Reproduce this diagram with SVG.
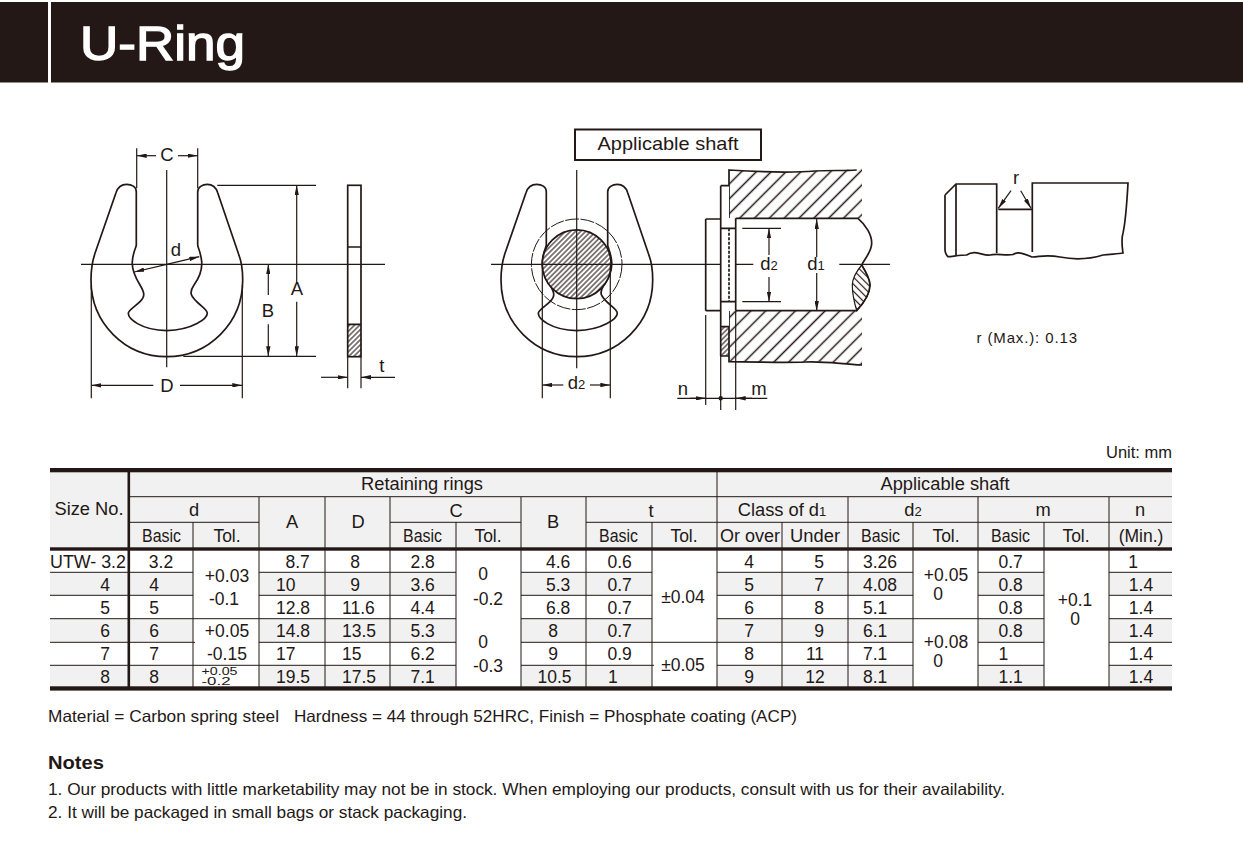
<svg xmlns="http://www.w3.org/2000/svg" width="1243" height="843" viewBox="0 0 1243 843">
<style>
text{font-family:"Liberation Sans",Arial,sans-serif;fill:#231815;font-size:17.5px}
.m{text-anchor:middle}
.lb{font-size:18.5px;text-anchor:middle}
.h{font-size:18.3px;text-anchor:middle}
.ln{fill:none;stroke:#231815;stroke-width:1.2}
.o{fill:none;stroke:#231815;stroke-width:1.7}
.a{marker-end:url(#arr)}
.t{fill:none;stroke:#231815;stroke-width:1}
.s{font-size:16.5px}
</style>
<defs>
<marker id="arr" viewBox="0 0 10 4.4" refX="10" refY="2.2" markerWidth="10" markerHeight="4.4" markerUnits="userSpaceOnUse" orient="auto"><path d="M0 0L10 2.2L0 4.4Z" fill="#231815"/></marker>
<pattern id="hf" width="3.6" height="3.6" patternUnits="userSpaceOnUse" patternTransform="rotate(45)"><line x1="1.8" y1="0" x2="1.8" y2="3.6" stroke="#231815" stroke-width="1.1"/></pattern>
<pattern id="hb" width="10.500" height="10.500" patternUnits="userSpaceOnUse" patternTransform="rotate(45)"><line x1="5.250" y1="0" x2="5.250" y2="10.500" stroke="#231815" stroke-width="1.500"/></pattern>
<pattern id="hr" width="5" height="5" patternUnits="userSpaceOnUse" patternTransform="rotate(-45)"><line x1="2.500" y1="0" x2="2.500" y2="5" stroke="#231815" stroke-width="1.200"/></pattern>
<path id="ring" d="M136.3 191.7C136.3 186.7 131.7 184.3 126.7 184.3C121.7 184.3 117.7 187.3 116 192.7L95 253.3C92.7 260 91 270 91 280C91 323.3 125 356.7 166.7 356.7C208.3 356.7 242.7 323.3 242.7 280C242.7 270 241 260 238.3 253.3L217.7 192.7C216 187.3 211.7 184.3 207.3 184.3C202.3 184.3 197.7 187.3 197.7 191.7L197.7 245C197.7 247.3 200.7 251.7 201.7 261.7C202.3 270 200 276.7 194 285C188.3 293.3 191.7 296.7 196.7 301.7C201.7 306.7 207.3 310 207.3 313.3C207.3 318.3 193.3 330 166.7 330.7C140 330 128.3 318.3 128.3 313.3C128.3 310 135 306.7 140 301.7C145 296.7 145 293.3 140 285C135 276.7 131.7 270 132.3 261.7C133 251.7 136.3 247.3 136.3 245Z"/>
</defs>

<g id="header">
<rect x="0" y="2" width="48" height="80.500" fill="#231815"/>
<rect x="51" y="2" width="1192" height="80.500" fill="#231815"/>
<text x="80" y="60" textLength="165" lengthAdjust="spacingAndGlyphs" style="fill:#fff;stroke:#fff;stroke-width:1.400;font-size:48px">U-Ring</text>
</g>

<g id="ring-front">
<use href="#ring" class="o"/>
<path class="ln" d="M136.700 148.300V188.300M197.700 148.300V188.300M166.700 170V367.300M81 264.300H385M217.300 185.300H316M183.300 356.300H316M91.300 285V398.300M242.300 285V398.300"/>
<line class="ln a" x1="156" y1="155.700" x2="136.700" y2="155.700"/>
<line class="ln a" x1="178" y1="155.700" x2="197.700" y2="155.700"/>
<line class="ln a" x1="296.700" y1="283.300" x2="296.700" y2="185.300"/>
<line class="ln a" x1="296.700" y1="301.700" x2="296.700" y2="356.300"/>
<line class="ln a" x1="268.300" y1="295" x2="268.300" y2="264.300"/>
<line class="ln a" x1="268.300" y1="324.300" x2="268.300" y2="356.300"/>
<line class="ln a" x1="153.300" y1="385.300" x2="91.300" y2="385.300"/>
<line class="ln a" x1="180" y1="385.300" x2="242.300" y2="385.300"/>
<line class="ln a" x1="166.700" y1="264.300" x2="134.300" y2="272"/>
<line class="ln a" x1="166.700" y1="264.300" x2="199.300" y2="256.700"/>
<text class="lb" x="167" y="160.700">C</text>
<text class="lb" x="176" y="255.700">d</text>
<text class="lb" x="297" y="295">A</text>
<text class="lb" x="268" y="316.700">B</text>
<text class="lb" x="167" y="391.700">D</text>
</g>

<g id="ring-side">
<rect x="347.700" y="324.300" width="13.300" height="32.400" fill="url(#hf)"/>
<rect class="o" x="347.700" y="185.300" width="13.300" height="171.400"/>
<path class="o" d="M347.700 247H361M347.700 324.300H361"/>
<path class="ln" d="M347.700 356.700V388.300M361 356.700V388.300"/>
<line class="ln a" x1="321" y1="377.300" x2="347.700" y2="377.300"/>
<line class="ln a" x1="395" y1="377.300" x2="361" y2="377.300"/>
<text class="lb" x="381.700" y="371.700">t</text>
</g>

<g id="applicable-box">
<rect x="575" y="129.500" width="186" height="30.500" fill="none" stroke="#231815" stroke-width="2"/>
<text x="668" y="150" class="m" textLength="141" lengthAdjust="spacingAndGlyphs" style="font-size:19px">Applicable shaft</text>
</g>

<g id="ring-on-shaft">
<use href="#ring" class="o" transform="translate(410 0)"/>
<circle cx="576.700" cy="264.300" r="45.300" fill="none" stroke="#231815" stroke-width="1" stroke-dasharray="14 1.500"/>
<circle cx="576.700" cy="264.300" r="34.400" fill="#fff"/>
<circle cx="576.700" cy="264.300" r="34.400" fill="url(#hf)" stroke="#231815" stroke-width="1.700"/>
<path class="ln" d="M576.700 170V368.300M491 264.300H753.300M839.300 264.300H890M542.300 264.300V398.300M610.300 264.300V398.300"/>
<line class="ln a" x1="563.300" y1="385" x2="542.300" y2="385"/>
<line class="ln a" x1="590" y1="385" x2="610.300" y2="385"/>
<text class="lb" x="576.500" y="389.300">d<tspan style="font-size:13px">2</tspan></text>
</g>

<g id="shaft-section">
<path d="M729 170C760 172 790 173 815 171C830 170 845 171 862 168V218.300H729ZM729 310.700H862V365C840 364 825 361 805 362C785 363 765 362 729 361.700Z" fill="url(#hb)"/>
<path class="o" d="M729 218.300V170C760 172 790 173 815 171C830 170 845 171 856.700 170M729 310.700V361.700C765 362 785 363 805 362C825 361 840 364 862 365"/>
<path fill="#fff" d="M720.700 185.700H729V326.700H720.700ZM729 218.300H735V310.700H729Z"/>
<rect x="720.700" y="326.700" width="8.300" height="29.300" fill="url(#hf)"/>
<path class="o" d="M735.700 218.300H858C866 225 871.700 235 871.700 243C871.700 252 865 258 861.700 265C866 272 870 280 870 285C870 295 862 305 856.700 310.700H735.700M735.700 218.300V310.700M705.700 219H720.700M705.700 310.700H720.700M705.700 219V310.700M720.700 185.700H729M720.700 185.700V356M720.700 356H729M720.700 326.700H729M720.700 228.300H735.700M720.700 301.700H735.700"/>
<path d="M729 228.300V301.700" fill="none" stroke="#231815" stroke-width="1.700" stroke-dasharray="3 1.500"/>
<path d="M861.700 265C856 272 852.300 280 852.300 285C852.300 295 855 305 856.700 310.700C862 305 870 295 870 285C870 280 866 272 861.700 265Z" fill="url(#hr)" stroke="#231815" stroke-width="1.200"/>
<path class="ln" d="M705.700 315V405M720.700 356V410M735.700 311V410M742.300 228.300H781M742.300 301.700H781M677.300 398.300H767.300"/>
<circle cx="720.700" cy="398.300" r="2.200" fill="#231815"/>
<line class="ln a" x1="690" y1="398.300" x2="705.700" y2="398.300"/>
<line class="ln a" x1="752" y1="398.300" x2="735.700" y2="398.300"/>
<line class="ln a" x1="769" y1="255" x2="769" y2="228.300"/>
<line class="ln a" x1="769" y1="277" x2="769" y2="301.700"/>
<line class="ln a" x1="816.700" y1="257" x2="816.700" y2="219"/>
<line class="ln a" x1="816.700" y1="273" x2="816.700" y2="311"/>
<text class="lb" x="683" y="395">n</text>
<text class="lb" x="759" y="395">m</text>
<text class="lb" x="769" y="270">d<tspan style="font-size:13px">2</tspan></text>
<text class="lb" x="816" y="270">d<tspan style="font-size:13px">1</tspan></text>
</g>

<g id="groove-detail">
<path class="o" d="M945 195L956 184H996.700V253M956 184V255M945 195V250C945 253 947 256 948 256.700C955 256 962 255 966.700 255C975 249 982 256 990 255C997 253 1005 256 1013 254.500C1018 251 1025 254 1032 257C1040 257 1045 254 1060 257C1075 260 1090 259 1103 255C1110 254 1118 254 1123 253C1122 245 1121 240 1123 233C1126 220 1127 200 1128 183H1032.300V252M998.300 209.300H1032.300"/>
<line class="ln a" x1="1011" y1="190.700" x2="998.300" y2="208.300"/>
<line class="ln a" x1="1020.700" y1="190.700" x2="1031" y2="208.300"/>
<text class="lb" x="1016" y="184.300">r</text>
<text x="976.500" y="342.700" textLength="100.500" lengthAdjust="spacing" style="font-size:15px">r (Max.): 0.13</text>
</g>

<g id="spec-table">
<text x="1172" y="458" style="text-anchor:end;font-size:16.500px">Unit: mm</text>
<rect x="50" y="470" width="1122" height="78" fill="#f1f1f1"/>
<path fill="#f1f1f1" d="M50 572.300H1172V595.300H50ZM50 618.700H1172V642.300H50ZM50 665.300H1172V687H50Z"/>
<path fill="#fff" d="M193 550H259V687H193ZM456 550H521V687H456ZM652 550H717V687H652ZM913 550H978V687H913ZM1044 550H1109V687H1044Z"/>
<path class="t" d="M128 496.700H1172M128 522.300H259M390 522.300H521M586 522.300H1172M193 522V548M259 497V687M325 497V687M390 497V687M456 522V687M521 497V687M586 497V687M652 522V687M717 472V687M782 522V687M848 497V687M913 522V687M978 497V687M1044 522V687M1109 497V687M193 550V687"/>
<path class="t" d="M50 572.300H193M259 572.300H456M521 572.300H652M717 572.300H913M978 572.300H1044M1109 572.300H1172M50 595.300H193M259 595.300H456M521 595.300H652M717 595.300H913M978 595.300H1044M1109 595.300H1172M50 618.700H456M521 618.700H652M717 618.700H1044M1109 618.700H1172M50 642.300H195M259 642.300H456M521 642.300H913M978 642.300H1044M1109 642.300H1172M50 665.300H456M521 665.300H654M717 665.300H913M978 665.300H1044M1109 665.300H1172"/>
<rect x="50" y="468" width="1122" height="4.300" fill="#231815"/>
<rect x="50" y="547.300" width="1122" height="3.400" fill="#231815"/>
<rect x="50" y="686.300" width="1122" height="4.300" fill="#231815"/>
<rect x="127.500" y="468" width="2.600" height="222" fill="#231815"/>

<g id="table-head">
<text class="h" x="422" y="490">Retaining rings</text>
<text class="h" x="945" y="490">Applicable shaft</text>
<text class="h" x="89" y="515">Size No.</text>
<text class="h" x="194" y="516">d</text>
<text class="h" x="292" y="528">A</text>
<text class="h" x="358" y="528">D</text>
<text class="h" x="456" y="517">C</text>
<text class="h" x="553" y="528">B</text>
<text class="h" x="651" y="517">t</text>
<text class="h" x="782" y="516">Class of d<tspan style="font-size:13px">1</tspan></text>
<text class="h" x="913" y="516">d<tspan style="font-size:13px">2</tspan></text>
<text class="h" x="1043" y="516">m</text>
<text class="h" x="1140" y="516">n</text>
<text x="142" y="542" textLength="39" lengthAdjust="spacingAndGlyphs">Basic</text>
<text class="m" x="227" y="542">Tol.</text>
<text x="403" y="542" textLength="39" lengthAdjust="spacingAndGlyphs">Basic</text>
<text class="m" x="488" y="542">Tol.</text>
<text x="599" y="542" textLength="39" lengthAdjust="spacingAndGlyphs">Basic</text>
<text class="m" x="684" y="542">Tol.</text>
<text x="720" y="542" textLength="60" lengthAdjust="spacingAndGlyphs">Or over</text>
<text class="m" x="815" y="542" textLength="50" lengthAdjust="spacingAndGlyphs">Under</text>
<text x="861" y="542" textLength="39" lengthAdjust="spacingAndGlyphs">Basic</text>
<text class="m" x="946" y="542">Tol.</text>
<text x="991" y="542" textLength="39" lengthAdjust="spacingAndGlyphs">Basic</text>
<text class="m" x="1076" y="542">Tol.</text>
<text class="m" x="1141" y="542">(Min.)</text>
</g>

<g id="table-col-size">
<text x="50" y="567.500" textLength="76" lengthAdjust="spacingAndGlyphs">UTW- 3.2</text>
<text class="m" x="105" y="590.500">4</text><text class="m" x="105" y="613.500">5</text><text class="m" x="105" y="637">6</text><text class="m" x="105" y="660">7</text><text class="m" x="105" y="683">8</text>
</g>
<g id="table-col-d">
<text class="m" x="161" y="567.500">3.2</text>
<text class="m" x="154" y="590.500">4</text><text class="m" x="154" y="613.500">5</text><text class="m" x="154" y="637">6</text><text class="m" x="154" y="660">7</text><text class="m" x="154" y="683">8</text>
<text class="m" x="227" y="582">+0.03</text><text class="m" x="224" y="605">-0.1</text>
<text class="m" x="227" y="637">+0.05</text><text class="m" x="227" y="660">-0.15</text>
<text x="201.500" y="674.500" textLength="36" lengthAdjust="spacingAndGlyphs" style="font-size:11px">+0.05</text><text x="201.500" y="685" textLength="29" lengthAdjust="spacingAndGlyphs" style="font-size:11px">-0.2</text>
</g>
<g id="table-col-a-d">
<text x="285.500" y="567.500">8.7</text><text x="276" y="590.500">10</text><text x="276" y="613.500">12.8</text><text x="276" y="637">14.8</text><text x="276" y="660">17</text><text x="276" y="683">19.5</text>
<text class="m" x="355" y="567.500">8</text><text class="m" x="355" y="590.500">9</text><text x="342" y="613.500">11.6</text><text x="342" y="637">13.5</text><text x="342" y="660">15</text><text x="342" y="683">17.5</text>
</g>
<g id="table-col-c">
<text x="410.500" y="567.500">2.8</text><text x="410.500" y="590.500">3.6</text><text x="410.500" y="613.500">4.4</text><text x="410.500" y="637">5.3</text><text x="410.500" y="660">6.2</text><text x="410.500" y="683">7.1</text>
<text class="m" x="483" y="580">0</text><text class="m" x="488" y="605">-0.2</text><text class="m" x="483" y="648">0</text><text class="m" x="488" y="672">-0.3</text>
</g>
<g id="table-col-b">
<text x="546" y="567.500">4.6</text><text x="546" y="590.500">5.3</text><text x="546" y="613.500">6.8</text><text class="m" x="553" y="637">8</text><text class="m" x="553" y="660">9</text><text x="537.500" y="683">10.5</text>
</g>
<g id="table-col-t">
<text x="607.500" y="567.500">0.6</text><text x="607.500" y="590.500">0.7</text><text x="607.500" y="613.500">0.7</text><text x="607.500" y="637">0.7</text><text x="607.500" y="660">0.9</text><text x="608" y="683">1</text>
<text class="m" x="683" y="603">±0.04</text><text class="m" x="683" y="671">±0.05</text>
</g>
<g id="table-col-class">
<text class="m" x="749" y="567.500">4</text><text class="m" x="749" y="590.500">5</text><text class="m" x="749" y="613.500">6</text><text class="m" x="749" y="637">7</text><text class="m" x="749" y="660">8</text><text class="m" x="749" y="683">9</text>
<text class="m" x="819" y="567.500">5</text><text class="m" x="819" y="590.500">7</text><text class="m" x="819" y="613.500">8</text><text class="m" x="819" y="637">9</text><text class="m" x="815" y="660">11</text><text class="m" x="815" y="683">12</text>
</g>
<g id="table-col-d2">
<text x="863" y="567.500">3.26</text><text x="863" y="590.500">4.08</text><text x="863" y="613.500">5.1</text><text x="863" y="637">6.1</text><text x="863" y="660">7.1</text><text x="863" y="683">8.1</text>
<text class="m" x="946" y="581">+0.05</text><text class="m" x="938" y="600">0</text><text class="m" x="946" y="648">+0.08</text><text class="m" x="938" y="667">0</text>
</g>
<g id="table-col-m">
<text x="998.500" y="567.500">0.7</text><text x="998.500" y="590.500">0.8</text><text x="998.500" y="613.500">0.8</text><text x="998.500" y="637">0.8</text><text x="998.500" y="660">1</text><text x="998.500" y="683">1.1</text>
<text class="m" x="1075" y="606">+0.1</text><text class="m" x="1075" y="625">0</text>
</g>
<g id="table-col-n">
<text class="m" x="1133" y="567.500">1</text><text class="m" x="1141" y="590.500">1.4</text><text class="m" x="1141" y="613.500">1.4</text><text class="m" x="1141" y="637">1.4</text><text class="m" x="1141" y="660">1.4</text><text class="m" x="1141" y="683">1.4</text>
</g>
</g>

<g id="footer">
<text class="s" x="48" y="722" textLength="231" lengthAdjust="spacingAndGlyphs">Material = Carbon spring steel</text>
<text class="s" x="294" y="722" textLength="503" lengthAdjust="spacingAndGlyphs">Hardness = 44 through 52HRC, Finish = Phosphate coating (ACP)</text>
<text x="48" y="769" textLength="56" lengthAdjust="spacingAndGlyphs" style="font-size:19px;font-weight:bold">Notes</text>
<text class="s" x="48" y="795" textLength="957" lengthAdjust="spacingAndGlyphs">1. Our products with little marketability may not be in stock. When employing our products, consult with us for their availability.</text>
<text class="s" x="48" y="818" textLength="419" lengthAdjust="spacingAndGlyphs">2. It will be packaged in small bags or stack packaging.</text>
</g>
</svg>
